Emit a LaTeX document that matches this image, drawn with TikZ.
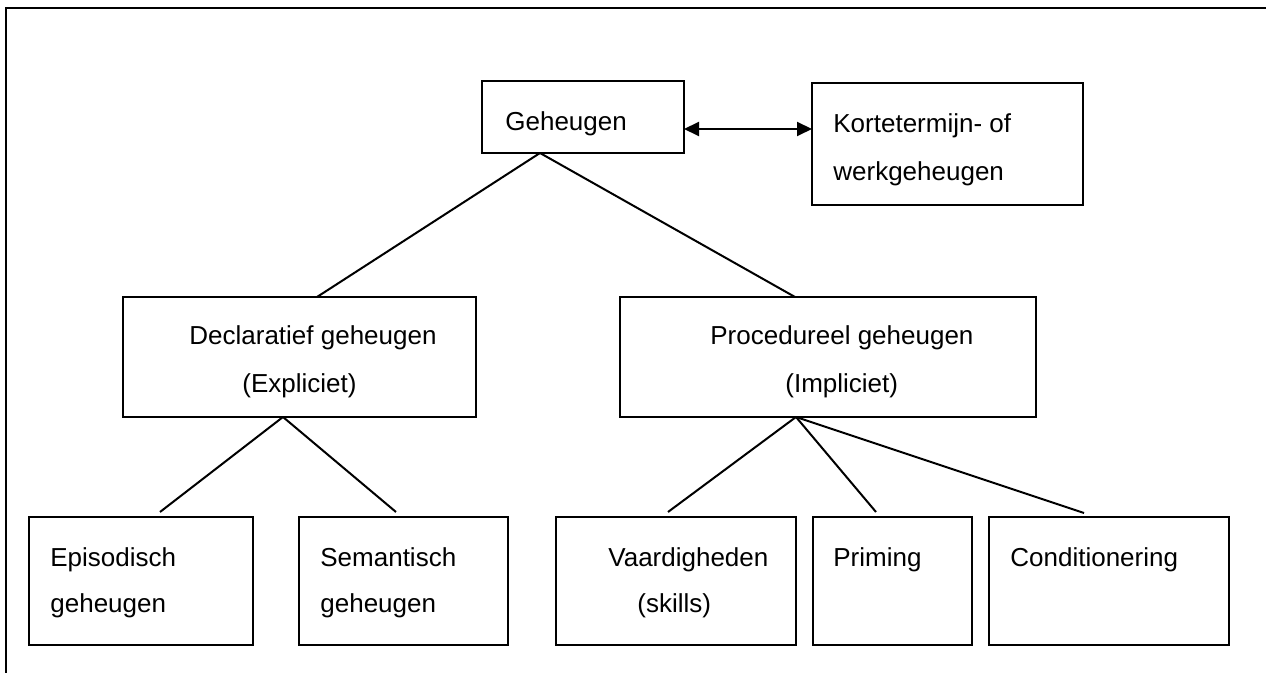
\documentclass[tikz,border=0pt]{standalone}
\usepackage{fontspec}
\setmainfont{Liberation Sans}
\usetikzlibrary{arrows.meta}

\begin{document}
\begin{tikzpicture}[x=0.5pt,y=-0.5pt,
  box/.style={draw=black,line width=1.2pt,inner sep=0pt,outer sep=0pt,anchor=north west},
  lbl/.style={anchor=base west,inner sep=0pt,font=\fontsize{13}{15}\selectfont},
  link/.style={draw=black,line width=1pt}]
\useasboundingbox (0,0) rectangle (1266,673);
\draw [black,line width=1.2pt] (6,673) -- (6,8) -- (1266,8);
\node [box,minimum width=101pt,minimum height=36pt] (geh) at (482,81) {};
\node [lbl] (gehA) at (505,131) {Geheugen};
\node [box,minimum width=135.5pt,minimum height=61pt] (kort) at (812,83) {};
\node [lbl] (kortA) at (833,133) {Kortetermijn- of};
\node [lbl] (kortB) at (833,181) {werkgeheugen};
\node [box,minimum width=176.5pt,minimum height=60pt] (decl) at (123,297) {};
\node [lbl] (declA) at (189,345) {Declaratief geheugen};
\node [lbl] (declB) at (242,393) {(Expliciet)};
\node [box,minimum width=208pt,minimum height=60pt] (proc) at (620,297) {};
\node [lbl] (procA) at (710,345) {Procedureel geheugen};
\node [lbl] (procB) at (785,393) {(Impliciet)};
\node [box,minimum width=112pt,minimum height=64pt] (epi) at (29,517) {};
\node [lbl] (epiA) at (50,567) {Episodisch};
\node [lbl] (epiB) at (50,613) {geheugen};
\node [box,minimum width=104.5pt,minimum height=64pt] (sem) at (299,517) {};
\node [lbl] (semA) at (320,567) {Semantisch};
\node [lbl] (semB) at (320,613) {geheugen};
\node [box,minimum width=120pt,minimum height=64pt] (vaar) at (556,517) {};
\node [lbl] (vaarA) at (608,567) {Vaardigheden};
\node [lbl] (vaarB) at (637,613) {(skills)};
\node [box,minimum width=79.5pt,minimum height=64pt] (prim) at (813,517) {};
\node [lbl] (primA) at (833,567) {Priming};
\node [box,minimum width=120pt,minimum height=64pt] (cond) at (989,517) {};
\node [lbl] (condA) at (1010,567) {Conditionering};
\draw [black,line width=1pt,{Triangle[length=7.5pt,width=7pt]}-{Triangle[length=7.5pt,width=7pt]}]
  ([yshift=12pt]geh.south east) -- ([yshift=-23pt]kort.north west);
\draw [link] ([xshift=29pt]geh.south west) -- ([xshift=97pt]decl.north west);
\draw [link] ([xshift=29pt]geh.south west) -- ([xshift=87.5pt]proc.north west);
\draw [link] ([xshift=80pt]decl.south west) -- ([xshift=65.5pt,yshift=2.5pt]epi.north west);
\draw [link] ([xshift=80pt]decl.south west) -- ([xshift=48.5pt,yshift=2.5pt]sem.north west);
\draw [link] ([xshift=88pt]proc.south west) -- ([xshift=56pt,yshift=2.5pt]vaar.north west);
\draw [link] ([xshift=88pt]proc.south west) -- ([xshift=31.5pt,yshift=2.5pt]prim.north west);
\draw [link] ([xshift=88pt]proc.south west) -- ([xshift=47.5pt,yshift=2pt]cond.north west);
\end{tikzpicture}
\end{document}
